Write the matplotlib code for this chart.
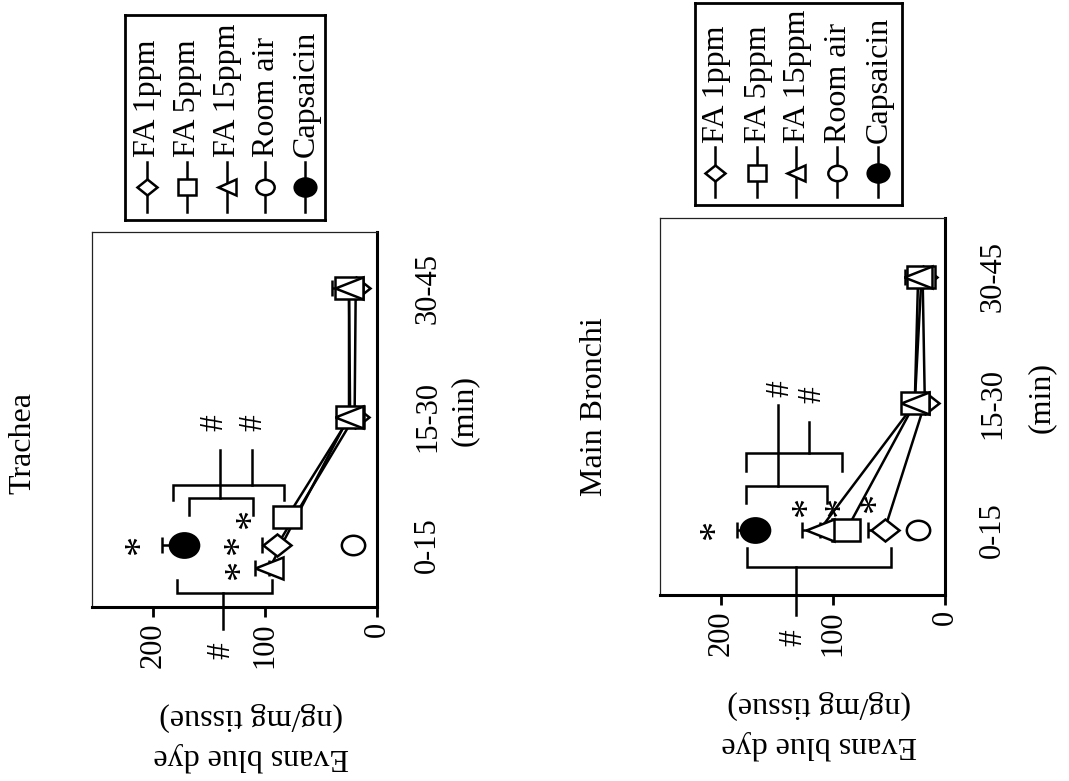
import numpy as np
import matplotlib
matplotlib.use("Agg")
import matplotlib.pyplot as plt
from matplotlib.markers import MarkerStyle
from matplotlib.transforms import Affine2D, ScaledTranslation

plt.rcParams['font.family'] = ['Liberation Serif', 'DejaVu Serif']

# ---------------- data ----------------
categories = ['0-15', '15-30', '30-45']
value_ticks = [0, 100, 200]
series_names = ['FA 1ppm', 'FA 5ppm', 'FA 15ppm', 'Room air', 'Capsaicin']
panel_titles = ['Trachea', 'Main Bronchi']
value_label_1 = '(ng/mg tissue)'
value_label_2 = 'Evans blue dye'
time_label = '(min)'

# Trachea: Evans blue dye (ng/mg tissue), mean and upper error per period
trachea_fa1 = [89, 20, 19]
trachea_fa1_err = [14, 2, 2]
trachea_fa5 = [80, 24, 25]
trachea_fa5_err = [4, 3, 3]
trachea_fa15 = [96, 25, 25]
trachea_fa15_err = [13, 3, 15]
trachea_room = [21]
trachea_room_err = [0]
trachea_caps = [172]
trachea_caps_err = [20]

# Main bronchi
bronchi_fa1 = [54, 18, 20]
bronchi_fa1_err = [15, 2, 2]
bronchi_fa5 = [88, 27, 21]
bronchi_fa5_err = [3, 3, 3]
bronchi_fa15 = [112, 27, 24]
bronchi_fa15_err = [16, 3, 12]
bronchi_room = [24]
bronchi_room_err = [0]
bronchi_caps = [170]
bronchi_caps_err = [16]

# significance annotations: brackets (v_start, v_end, c_line, c_end), stems (v, c0, c1), marks (text, v, c)
trachea_brackets = [(182, 83, 0.47, 0.35), (168, 111, 0.37, 0.23), (179, 94, -0.37, -0.27)]
trachea_stems = [(140, 0.74, 0.37), (112, 0.74, 0.47), (137.5, -0.37, -0.65)]
trachea_marks = [('#', 145, 0.95), ('#', 111, 0.95), ('#', 139, -0.82),
                 ('*', 219, 0.0), ('*', 131, 0.0), ('*', 130, -0.19), ('*', 120, 0.20)]
bronchi_brackets = [(178, 92, 0.61, 0.47), (178, 105, 0.35, 0.21), (177, 48, -0.29, -0.14)]
bronchi_stems = [(149, 0.99, 0.35), (121, 0.85, 0.61), (133, -0.29, -0.67)]
bronchi_marks = [('#', 147, 1.12), ('#', 119, 1.07), ('#', 136, -0.85),
                 ('*', 213, 0.0), ('*', 131, 0.18), ('*', 101, 0.18), ('*', 69, 0.21)]

# ---------------- styles ----------------
SX = 1.2


def mk(m):
    return MarkerStyle(m, transform=Affine2D().scale(SX, 1.0))


styles = {
    'FA 1ppm': dict(marker='D', ms=11.5, leg_ms=8.5, mfc='white'),
    'FA 5ppm': dict(marker='s', ms=16.5, leg_ms=11, mfc='white'),
    'FA 15ppm': dict(marker='<', ms=16.5, leg_ms=11, mfc='white'),
    'Room air': dict(marker='o', ms=14, leg_ms=11, mfc='white'),
    'Capsaicin': dict(marker='o', ms=17.5, leg_ms=13, mfc='black'),
}
LW = 1.8
FS_TICK = 22
FS_TEXT = 23
FS_STAR = 29
FS_HASH = 24

fig = plt.figure(figsize=(10.69, 7.81), dpi=100)


def draw_panel(ax, fa_series, room, room_err, caps, caps_err, jitter,
               brackets, stems, marks, ylim, label_pad):
    # connecting lines for FA series
    for name, (vals, errs) in fa_series.items():
        pos = np.arange(len(vals), dtype=float)
        pos[0] += jitter.get(name, 0.0)
        ax.plot(vals, pos, '-', color='black', lw=LW, zorder=2)
    # error bars (upper only)
    for name, (vals, errs) in fa_series.items():
        pos = np.arange(len(vals), dtype=float)
        pos[0] += jitter.get(name, 0.0)
        ax.errorbar(vals, pos, xerr=[np.zeros(len(errs)), errs], fmt='none',
                    ecolor='black', elinewidth=LW, capsize=5.5, capthick=LW, zorder=2)
    ax.errorbar(caps, [0.0], xerr=[[0], caps_err], fmt='none', ecolor='black',
                elinewidth=LW, capsize=5.5, capthick=LW, zorder=2)
    # markers, drawn in order diamond, square, triangle
    for name in ['FA 1ppm', 'FA 5ppm', 'FA 15ppm']:
        vals, errs = fa_series[name]
        pos = np.arange(len(vals), dtype=float)
        pos[0] += jitter.get(name, 0.0)
        st = styles[name]
        ax.plot(vals, pos, linestyle='none', marker=mk(st['marker']), ms=st['ms'],
                mfc=st['mfc'], mec='black', mew=LW, zorder=3, clip_on=False)
    for name, vals in [('Room air', room), ('Capsaicin', caps)]:
        st = styles[name]
        ax.plot(vals, np.arange(len(vals)), linestyle='none', marker=mk(st['marker']),
                ms=st['ms'], mfc=st['mfc'], mec='black', mew=LW, zorder=3, clip_on=False)
    # annotations
    for v0, v1, cl, ce in brackets:
        ax.plot([v0, v0, v1, v1], [ce, cl, cl, ce], color='black', lw=LW,
                solid_joinstyle='miter', clip_on=False, zorder=2)
    for v, c0, c1 in stems:
        ax.plot([v, v], [c0, c1], color='black', lw=LW, clip_on=False, zorder=2)
    # the asterisk glyph sits high in its em box; shift it so it is centred on its point
    star_shift = ScaledTranslation(9 / 100, 0, fig.dpi_scale_trans)
    for txt, v, c in marks:
        if txt == '*':
            ax.text(v, c, txt, rotation=90, ha='center', va='center',
                    fontsize=FS_STAR, clip_on=False,
                    transform=ax.transData + star_shift)
        else:
            ax.text(v, c, txt, rotation=90, ha='center', va='center',
                    fontsize=FS_HASH, clip_on=False)

    ax.set_xlim(254.5, 0)
    ax.set_ylim(*ylim)
    ax.set_xticks(value_ticks)
    ax.set_xticklabels([str(v) for v in value_ticks])
    ax.tick_params(axis='x', direction='out', length=7, width=2, pad=4,
                   labelsize=FS_TICK, labelrotation=90)
    ax.yaxis.tick_right()
    ax.set_yticks(range(len(categories)))
    ax.set_yticklabels(categories, rotation=90, va='center', ha='left')
    ax.tick_params(axis='y', length=0, pad=label_pad, labelsize=FS_TICK)
    for s in ['top', 'left']:
        ax.spines[s].set_linewidth(0.9)
        ax.spines[s].set_color('#222222')
    for s in ['bottom', 'right']:
        ax.spines[s].set_linewidth(2.2)
    ax.set_facecolor('none')


def draw_legend(rect, xs):
    lax = fig.add_axes(rect)
    lax.set_xlim(0, 1)
    lax.set_ylim(0, 1)
    lax.set_xticks([])
    lax.set_yticks([])
    for s in lax.spines.values():
        s.set_linewidth(2.0)
    for x, name in zip(xs, series_names):
        st = styles[name]
        lax.plot([x, x], [0.04, 0.285], color='black', lw=LW)
        lax.plot([x], [0.16], linestyle='none', marker=mk(st['marker']), ms=st['leg_ms'],
                 mfc=st['mfc'], mec='black', mew=LW)
        lax.text(x + 0.005, 0.305, name, rotation=90, ha='center', va='bottom',
                 fontsize=FS_TEXT, clip_on=False)


W, H = 1069.0, 781.0

# Trachea panel
ax1 = fig.add_axes([92 / W, (H - 607) / H, 285 / W, 375 / H])
draw_panel(ax1,
           {'FA 1ppm': (trachea_fa1, trachea_fa1_err),
            'FA 5ppm': (trachea_fa5, trachea_fa5_err),
            'FA 15ppm': (trachea_fa15, trachea_fa15_err)},
           trachea_room, trachea_room_err, trachea_caps, trachea_caps_err,
           {'FA 5ppm': 0.22, 'FA 15ppm': -0.18},
           trachea_brackets, trachea_stems, trachea_marks,
           (-0.482, 2.436), 26)

# Main bronchi panel
ax2 = fig.add_axes([660 / W, (H - 595) / H, 285 / W, 377 / H])
draw_panel(ax2,
           {'FA 1ppm': (bronchi_fa1, bronchi_fa1_err),
            'FA 5ppm': (bronchi_fa5, bronchi_fa5_err),
            'FA 15ppm': (bronchi_fa15, bronchi_fa15_err)},
           bronchi_room, bronchi_room_err, bronchi_caps, bronchi_caps_err,
           {},
           bronchi_brackets, bronchi_stems, bronchi_marks,
           (-0.514, 2.466), 24)

# time axis label
for ax, xf in [(ax1, 1.256), (ax2, 1.288)]:
    ax.text(xf, 1.05, time_label, transform=ax.get_yaxis_transform(), rotation=90,
            ha='left', va='center', fontsize=FS_TEXT)

# value axis labels (upside down)
for cx, y1, y2 in [(251, 717, 757), (819, 705, 745)]:
    fig.text(cx / W, 1 - y1 / H, value_label_1, rotation=180, ha='center', va='center',
             fontsize=FS_TEXT)
    fig.text(cx / W, 1 - y2 / H, value_label_2, rotation=180, ha='center', va='center',
             fontsize=FS_TEXT)

# titles
fig.text(23 / W, 1 - 443 / H, panel_titles[0], rotation=90, ha='center', va='center',
         fontsize=FS_TEXT)
fig.text(594 / W, 1 - 407 / H, panel_titles[1], rotation=90, ha='center', va='center',
         fontsize=FS_TEXT)

# legends
draw_legend([125 / W, (H - 220) / H, 200 / W, 205 / H], [0.11, 0.31, 0.51, 0.70, 0.90])
draw_legend([695 / W, (H - 205) / H, 207 / W, 202 / H], [0.097, 0.30, 0.49, 0.686, 0.884])

fig.savefig('out.png', dpi=100, facecolor='white')
